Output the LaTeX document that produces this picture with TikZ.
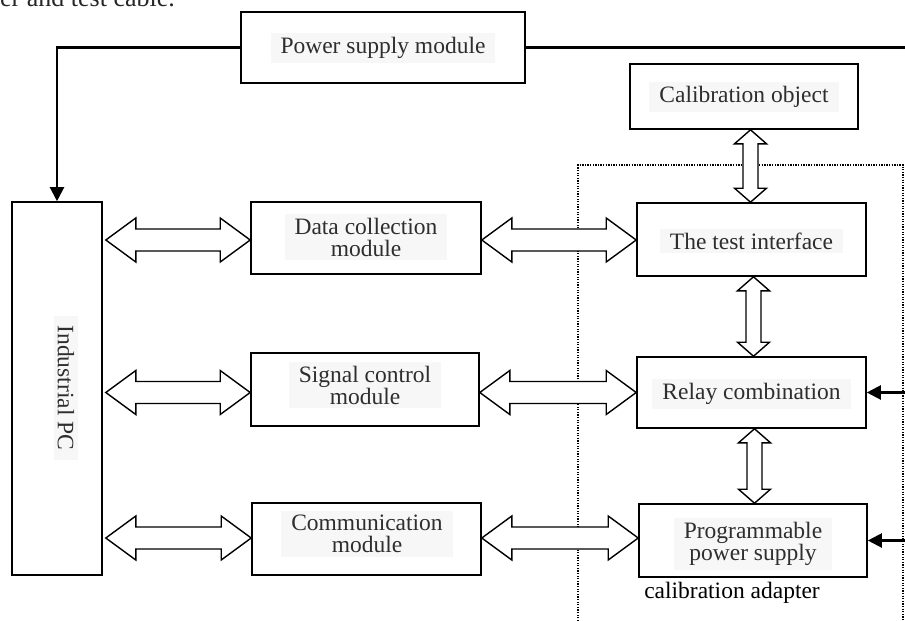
\documentclass[tikz,border=0pt]{standalone}
\usepackage{fontspec}
\setmainfont{Liberation Serif}
\usetikzlibrary{calc,arrows.meta}
\newcommand\hdbl[2]{\draw[fatarrow] (#1) -- ++(30,-22) -- ++(0,11) -- ($(#2)+(-30,-11)$) -- ++(0,-11) -- (#2) -- ++(-30,22) -- ++(0,-11) -- ($(#1)+(30,11)$) -- ++(0,11) -- cycle;}
\newcommand\vdbl[2]{\draw[fatarrow] (#1) -- ++(16,14) -- ++(-8.5,0) -- ($(#2)+(7.5,-14)$) -- ++(8.5,0) -- (#2) -- ++(-16,-14) -- ++(8.5,0) -- ($(#1)+(-7.5,14)$) -- ++(-8.5,0) -- cycle;}
\begin{document}
\begin{tikzpicture}[x=1pt,y=-1pt,
  box/.style={draw=black,line width=1.6pt,fill=white,inner sep=0pt},
  txt/.style={fill=black!3,text=black!82,font=\fontsize{23.5}{22}\selectfont,align=center,inner xsep=10pt,inner ysep=4pt},
  fatarrow/.style={draw=black,line width=1.4pt,fill=white,line join=miter},
  pline/.style={draw=black,line width=2.2pt},
  tip/.style={-{Triangle[length=14pt,width=14pt]}}]
\useasboundingbox (0,0) rectangle (905,621);
% caption fragment
\node[anchor=base west,inner sep=0pt,text=black!85,font=\fontsize{26}{26}\selectfont] (cap) at (0,6) {er and test cable.};
% dotted calibration adapter frame
\draw[line width=1.2pt,dash pattern=on 1.3pt off 1.3pt] (578,621) -- (578,165) -- (903,165) -- (903,621);
% boxes
\node[box,minimum width=90pt,minimum height=373pt] (pc) at (57,388.5) {};
\node[box,minimum width=284pt,minimum height=71pt] (ps) at (383,47.5) {};
\node[box,minimum width=228pt,minimum height=65pt] (cal) at (744,96.5) {};
\node[box,minimum width=230pt,minimum height=72pt] (dcm) at (366,238) {};
\node[box,minimum width=228pt,minimum height=73pt] (sig) at (365,389.5) {};
\node[box,minimum width=229pt,minimum height=72pt] (com) at (366.5,539) {};
\node[box,minimum width=229pt,minimum height=73pt] (ti) at (751.5,239.5) {};
\node[box,minimum width=229pt,minimum height=71pt] (rel) at (751.5,392.5) {};
\node[box,minimum width=228pt,minimum height=73pt] (pps) at (753,540.5) {};
% texts
\node[txt,rotate=-90] (pct) at (66,388) {Industrial PC};
\node[txt] (pst) at (383,48) {Power supply module};
\node[txt] (calt) at (744,97) {Calibration object};
\node[txt] (dcmt) at (366,237) {Data collection\\module};
\node[txt] (sigt) at (365,385) {Signal control\\module};
\node[txt] (comt) at (367,534) {Communication\\module};
\node[txt] (tit) at (751.5,241) {The test interface};
\node[txt] (relt) at (751.5,394) {Relay combination};
\node[txt] (ppst) at (753,544) {Programmable\\power supply};
\node[font=\fontsize{23.5}{22}\selectfont,text=black,inner sep=0pt] (ad) at (732,593) {calibration adapter};
% power lines
\coordinate (pe) at (905,47.5);
\draw[line width=3.5pt] (ps.east) -- (pe);
\draw[pline,tip] (ps.west) -| (pc.north);
\coordinate (r1) at (905,392.5);
\coordinate (r2) at (905,540.5);
\draw[pline,tip] (r1) -- (rel.east);
\draw[pline,tip] (r2) -- (pps.east);
% horizontal double arrows
\coordinate (a1) at ($(pc.east |- dcm.west)+(3,2)$);
\coordinate (b1) at ($(dcm.west)+(0,2)$);
\hdbl{a1}{b1}
\coordinate (a2) at ($(pc.east |- sig.west)+(3,3)$);
\coordinate (b2) at ($(sig.west)+(0,3)$);
\hdbl{a2}{b2}
\coordinate (a3) at ($(pc.east |- com.west)+(3,-1)$);
\coordinate (b3) at ($(com.west)+(0,-1)$);
\hdbl{a3}{b3}
\coordinate (c1) at ($(dcm.east)+(0,2)$);
\coordinate (d1) at ($(ti.west |- c1)$);
\hdbl{c1}{d1}
\coordinate (c2) at ($(sig.east)+(0,3)$);
\coordinate (d2) at ($(rel.west |- c2)$);
\hdbl{c2}{d2}
\coordinate (c3) at ($(com.east)+(0,-1)$);
\coordinate (d3) at ($(pps.west |- c3)$);
\hdbl{c3}{d3}
% vertical double arrows
\coordinate (v1) at ($(cal.south -| ti.north)+(-1,0)$);
\coordinate (w1) at ($(ti.north)+(-1,0)$);
\vdbl{v1}{w1}
\coordinate (v2) at ($(ti.south)+(2,0)$);
\coordinate (w2) at ($(rel.north)+(2,0)$);
\vdbl{v2}{w2}
\coordinate (v3) at ($(rel.south)+(3,0)$);
\coordinate (w3) at ($(v3 |- pps.north)$);
\vdbl{v3}{w3}
\end{tikzpicture}
\end{document}
